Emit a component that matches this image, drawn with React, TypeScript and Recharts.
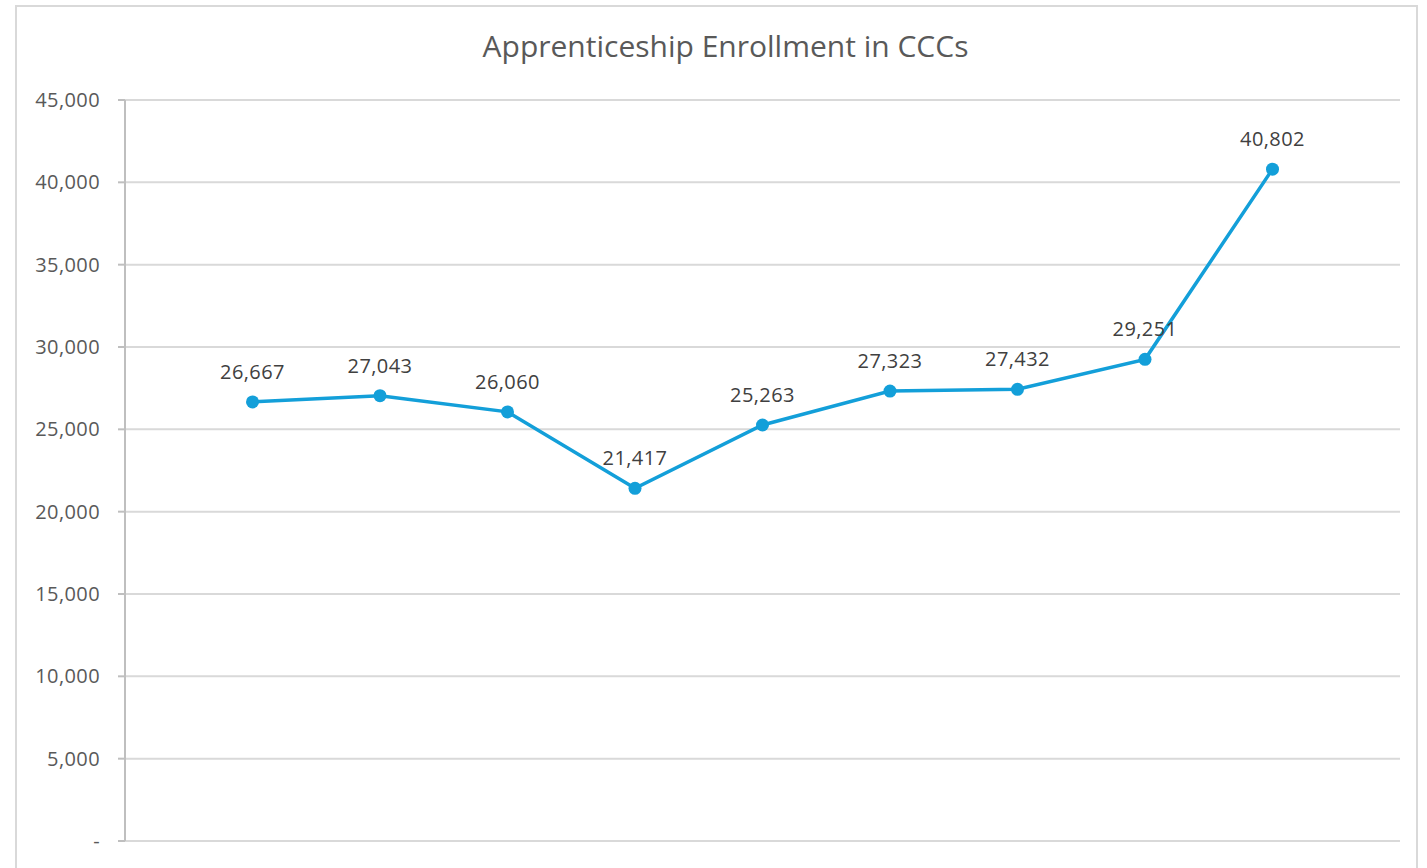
import { LineChart, Line, XAxis, YAxis, CartesianGrid, LabelList } from 'recharts';

// x labels are cut off in the source picture, so these are only placeholders
const periods = ['P1', 'P2', 'P3', 'P4', 'P5', 'P6', 'P7', 'P8', 'P9'];
const enrollment = [26667, 27043, 26060, 21417, 25263, 27323, 27432, 29251, 40802];
const yTicks = [0, 5000, 10000, 15000, 20000, 25000, 30000, 35000, 40000, 45000];

const data = periods.map((p, i) => ({ period: p, value: enrollment[i] }));

const FONT = '"Open Sans", sans-serif';

const fmt = (v: number) => (v === 0 ? '-' : v.toLocaleString('en-US'));

export default function App() {
  return (
    <div style={{ position: 'absolute', left: 0, top: 0, width: 1427, height: 868, background: '#fff', overflow: 'hidden' }}>
      <div
        style={{
          position: 'absolute', left: 15, top: 5, width: 1403, height: 880,
          border: '2px solid #d9d9d9', boxSizing: 'border-box',
        }}
      />
      <div
        style={{
          position: 'absolute', left: 23, top: 25, width: 1405, textAlign: 'center',
          fontFamily: FONT, fontSize: 30, color: '#595959',
        }}
      >
        Apprenticeship Enrollment in CCCs
      </div>
      <div style={{ position: 'absolute', left: 0, top: 0 }}>
        <LineChart width={1427} height={868} data={data} margin={{ top: 100, right: 27, bottom: 27, left: 0 }}>
          <CartesianGrid vertical={false} stroke="#d9d9d9" strokeWidth={2} />
          <XAxis
            dataKey="period"
            hide
            padding={{ left: 127.5, right: 127.5 }}
          />
          <YAxis
            width={125}
            domain={[0, 45000]}
            ticks={yTicks}
            tickFormatter={fmt}
            interval={0}
            axisLine={{ stroke: '#bfbfbf', strokeWidth: 2 }}
            tickLine={{ stroke: '#bfbfbf', strokeWidth: 2 }}
            tickSize={7}
            tickMargin={18}
            tick={{ fontFamily: FONT, fontSize: 20, fill: '#595959', letterSpacing: 0.4 }}
          />
          <Line
            type="linear"
            dataKey="value"
            stroke="#139fd9"
            strokeWidth={3.5}
            dot={{ r: 6.5, fill: '#139fd9', stroke: '#139fd9', strokeWidth: 0 }}
            isAnimationActive={false}
          >
            <LabelList
              dataKey="value"
              position="top"
              offset={23}
              formatter={(v: any) => fmt(Number(v))}
              style={{ fontFamily: FONT, fontSize: 20, fill: '#404040', letterSpacing: 0.4 }}
            />
          </Line>
        </LineChart>
      </div>
    </div>
  );
}
